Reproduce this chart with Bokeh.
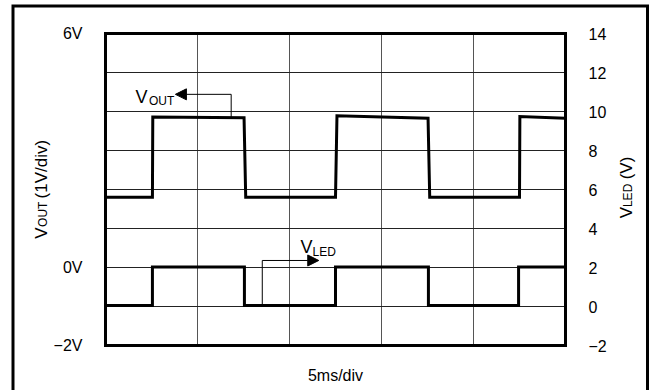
from math import pi
from bokeh.plotting import figure
from bokeh.models import (Label, Arrow, NormalHead, FixedTicker, LinearAxis,
                          Range1d)
from bokeh.embed import file_html
from bokeh.resources import INLINE

# ---- data (time in ms, 5 ms/div; VOUT in V on left scale, VLED in V on right scale) ----
vout_t = [0.0, 2.55, 2.57, 7.53, 7.62, 12.5, 12.58, 17.53, 17.62, 22.5, 22.52, 25.0]
vout_v = [1.80, 1.80, 3.86, 3.84, 1.80, 1.80, 3.89, 3.83, 1.80, 1.80, 3.87, 3.83]

vled_t = [0.0, 2.55, 2.55, 7.55, 7.55, 12.5, 12.5, 17.55, 17.55, 22.45, 22.45, 25.0]
vled_v = [0.05, 0.05, 2.02, 2.02, 0.05, 0.05, 2.02, 2.02, 0.05, 0.05, 2.02, 2.02]

x_grid = [0, 5, 10, 15, 20, 25]
y_grid = [-2, -1, 0, 1, 2, 3, 4, 5, 6]
left_ticks = [-2, 0, 6]
left_labels = ["\u22122V", "0V", "6V"]
right_ticks = [-2, 0, 2, 4, 6, 8, 10, 12, 14]
right_labels = ["\u22122", "0", "2", "4", "6", "8", "10", "12", "14"]

X0, X1 = 0, 25      # time span shown in the grid
Y0, Y1 = -2, 6      # left scale span
R0, R1 = -2, 14     # right scale span

FONT = "Liberation Sans"

# ---- layout geometry (canvas pixels) ----
W, H = 650, 390
FL, FR, FT, FB = 105, 565, 33, 345          # grid box edges on the canvas
sx = (FR - FL) / (X1 - X0)
sy = (FB - FT) / (Y1 - Y0)


def dx(px):   # canvas x pixel -> time units
    return X0 + (px - FL) / sx


def dy(py):   # canvas y pixel -> left-scale units
    return Y1 - (py - FT) / sy


y_lo, y_hi = dy(H), dy(0)
k = (R1 - R0) / (Y1 - Y0)
p = figure(width=W, height=H, x_range=Range1d(dx(0), dx(W)), y_range=Range1d(y_lo, y_hi),
           output_backend="svg", toolbar_location=None,
           min_border_left=0, min_border_right=0, min_border_top=0, min_border_bottom=0)
p.extra_y_ranges = {"led": Range1d(R0 + (y_lo - Y0) * k, R0 + (y_hi - Y0) * k)}
p.outline_line_color = None
p.background_fill_color = "white"
p.border_fill_color = "white"
p.xaxis.visible = False
p.xgrid.visible = False
p.ygrid.visible = False

ax = p.yaxis[0]
ax.fixed_location = X0
ax.ticker = FixedTicker(ticks=left_ticks)
ax.major_label_overrides = dict(zip(left_ticks, left_labels))

rax = LinearAxis(y_range_name="led", fixed_location=X1, ticker=FixedTicker(ticks=right_ticks),
                 major_label_overrides=dict(zip(right_ticks, right_labels)))
p.add_layout(rax, "right")

for a in (ax, rax):
    a.axis_line_color = None
    a.major_tick_line_color = None
    a.minor_tick_line_color = None
    a.major_label_standoff = 17
    a.major_label_text_font = FONT
    a.major_label_text_font_size = "16px"
    a.major_label_text_color = "black"

# outer frame (left, top, right sides)
p.line([dx(12.5), dx(12.5), dx(647), dx(647)], [dy(H + 5), dy(5.5), dy(5.5), dy(H + 5)],
       line_color="black", line_width=3, line_join="miter")

# grid
p.segment(x0=x_grid, y0=[Y0] * len(x_grid), x1=x_grid, y1=[Y1] * len(x_grid),
          line_color="#555555", line_width=1)
p.segment(x0=[X0] * len(y_grid), y0=y_grid, x1=[X1] * len(y_grid), y1=y_grid,
          line_color="#222222", line_width=1)
# grid box
p.quad(left=[X0], right=[X1], bottom=[Y0], top=[Y1], fill_color=None,
       line_color="black", line_width=3, line_join="miter")

# waveforms
p.line(vout_t, vout_v, line_width=3, line_color="black", line_join="miter")
p.line(vled_t, vled_v, line_width=3, line_color="black", line_join="miter",
       y_range_name="led")

# VOUT callout
p.segment(x0=[6.83], y0=[3.84], x1=[6.83], y1=[4.44], line_color="black", line_width=1)
p.add_layout(Arrow(end=NormalHead(size=11, fill_color="black", line_color="black"),
                   x_start=6.83, y_start=4.44, x_end=3.8, y_end=4.44,
                   line_color="black", line_width=1))
# VLED callout
p.segment(x0=[8.52], y0=[0.05], x1=[8.52], y1=[2.36], line_color="black", line_width=1,
          y_range_name="led")
p.add_layout(Arrow(end=NormalHead(size=11, fill_color="black", line_color="black"),
                   x_start=8.52, y_start=2.36, x_end=11.59, y_end=2.36,
                   y_range_name="led", line_color="black", line_width=1))


def lab(x, y, t, size, angle=0.0, align="left"):
    p.add_layout(Label(x=x, y=y, text=t, text_font=FONT, text_font_size=size,
                       text_color="black", angle=angle, text_align=align,
                       text_baseline="alphabetic"))


# in-plot labels
lab(1.63, 4.36, "V", "18px")
lab(2.36, 4.27, "OUT", "12px")
lab(10.6, 0.52, "V", "18px")
lab(11.25, 0.39, "LED", "12px")

# left axis title (rotated, reads upward)
lab(-3.48, 0.74, "V", "17px", pi / 2)
lab(-3.37, 1.04, "OUT", "12px", pi / 2)
lab(-3.48, 1.77, "(1V/div)", "17px", pi / 2)

# right axis title (rotated, reads upward)
lab(28.3, 1.26, "V", "17px", pi / 2)
lab(28.41, 1.55, "LED", "12px", pi / 2)
lab(28.3, 2.26, "(V)", "17px", pi / 2)

# x label
lab(12.5, -2.77, "5ms/div", "16px", 0.0, "center")

open("out.html", "w").write(file_html(p, INLINE))
